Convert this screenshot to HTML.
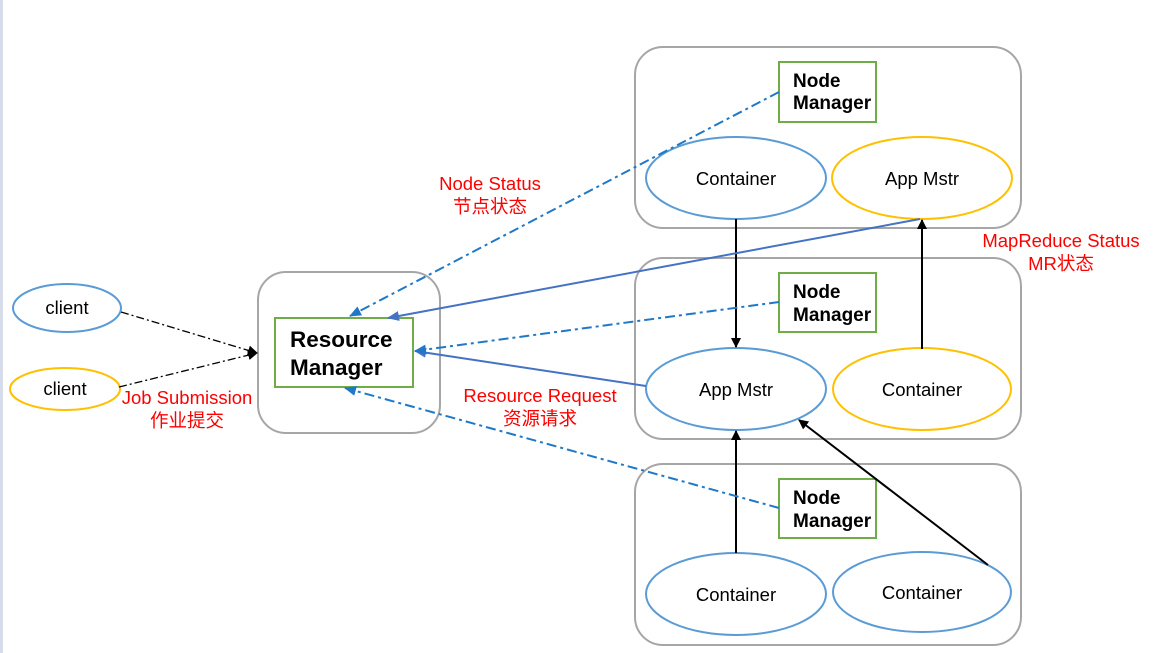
<!DOCTYPE html>
<html><head><meta charset="utf-8"><style>
html,body{margin:0;padding:0;background:#fff;width:1166px;height:653px;overflow:hidden}
text{font-family:"Liberation Sans","Noto Sans CJK SC",sans-serif}
</style></head><body>
<svg width="1166" height="653" viewBox="0 0 1166 653" xmlns="http://www.w3.org/2000/svg">
<defs>
<marker id="ak" markerWidth="10" markerHeight="10" refX="9" refY="5" orient="auto" markerUnits="userSpaceOnUse"><path d="M0,0 L10,5 L0,10 z" fill="#000"/></marker>
<marker id="ab" markerWidth="12" markerHeight="10" refX="11" refY="5" orient="auto" markerUnits="userSpaceOnUse"><path d="M0,0 L12,5 L0,10 z" fill="#4472c4"/></marker>
<marker id="ad" markerWidth="12" markerHeight="10" refX="11" refY="5" orient="auto" markerUnits="userSpaceOnUse"><path d="M0,0 L12,5 L0,10 z" fill="#1f78c8"/></marker>
</defs>
<rect x="0" y="0" width="3" height="653" fill="#d6dde8"/>
<g fill="none" stroke="#a6a6a6" stroke-width="2">
<rect x="258" y="272" width="182" height="161" rx="28"/>
<rect x="635" y="47" width="386" height="181" rx="28"/>
<rect x="635" y="258" width="386" height="181" rx="28"/>
<rect x="635" y="464" width="386" height="181" rx="28"/>
</g>
<g fill="#fff" stroke="#70ad47" stroke-width="2">
<rect x="275" y="318" width="138" height="69"/>
<rect x="779" y="62" width="97" height="60"/>
<rect x="779" y="273" width="97" height="59"/>
<rect x="779" y="479" width="97" height="59"/>
</g>
<g fill="none" stroke-width="2">
<ellipse cx="67" cy="308" rx="54" ry="24" stroke="#5b9bd5"/>
<ellipse cx="65" cy="389" rx="55" ry="21" stroke="#ffc000"/>
<ellipse cx="736" cy="178" rx="90" ry="41" stroke="#5b9bd5"/>
<ellipse cx="922" cy="178" rx="90" ry="41" stroke="#ffc000"/>
<ellipse cx="736" cy="389" rx="90" ry="41" stroke="#5b9bd5"/>
<ellipse cx="922" cy="389" rx="89" ry="41" stroke="#ffc000"/>
<ellipse cx="736" cy="594" rx="90" ry="41" stroke="#5b9bd5"/>
<ellipse cx="922" cy="592" rx="89" ry="40" stroke="#5b9bd5"/>
</g>
<g stroke-width="1.3" stroke="#000" fill="none" stroke-dasharray="8,3,2,3">
<line x1="121" y1="312" x2="257" y2="353" marker-end="url(#ak)"/>
<line x1="119" y1="387" x2="257" y2="353" marker-end="url(#ak)"/>
</g>
<g stroke-width="2" stroke="#000" fill="none">
<line x1="736" y1="219" x2="736" y2="347" marker-end="url(#ak)"/>
<line x1="922" y1="349" x2="922" y2="220" marker-end="url(#ak)"/>
<line x1="736" y1="553" x2="736" y2="431" marker-end="url(#ak)"/>
<line x1="988" y1="565" x2="799" y2="420" marker-end="url(#ak)"/>
</g>
<g stroke-width="2" stroke="#4472c4" fill="none">
<line x1="920" y1="219" x2="388" y2="318" marker-end="url(#ab)"/>
<line x1="646" y1="386" x2="415" y2="351" marker-end="url(#ab)"/>
</g>
<g stroke-width="2" stroke="#1f78c8" fill="none" stroke-dasharray="10,4,3,4">
<line x1="779" y1="92" x2="350" y2="316" marker-end="url(#ad)"/>
<line x1="779" y1="302" x2="415" y2="351" marker-end="url(#ad)"/>
<line x1="779" y1="508" x2="345" y2="388" marker-end="url(#ad)"/>
</g>
<g font-size="18.5" fill="#000" text-anchor="middle">
<text x="67" y="314">client</text>
<text x="65" y="395">client</text>
<text x="736" y="185">Container</text>
<text x="922" y="185">App Mstr</text>
<text x="736" y="396">App Mstr</text>
<text x="922" y="396">Container</text>
<text x="736" y="601">Container</text>
<text x="922" y="599">Container</text>
</g>
<g font-weight="bold" fill="#000">
<text x="290" y="347" font-size="22.5">Resource</text>
<text x="290" y="375" font-size="22.5">Manager</text>
<text x="793" y="87" font-size="19">Node</text>
<text x="793" y="109" font-size="19">Manager</text>
<text x="793" y="298" font-size="19">Node</text>
<text x="793" y="321" font-size="19">Manager</text>
<text x="793" y="504" font-size="19">Node</text>
<text x="793" y="527" font-size="19">Manager</text>
</g>
<g font-size="18.5" fill="#ff0000" text-anchor="middle">
<text x="490" y="190">Node Status</text>
<text x="490" y="213">节点状态</text>
<text x="1061" y="247">MapReduce Status</text>
<text x="1061" y="270">MR状态</text>
<text x="540" y="402">Resource Request</text>
<text x="540" y="425">资源请求</text>
<text x="187" y="404">Job Submission</text>
<text x="187" y="427">作业提交</text>
</g>
</svg>
</body></html>
